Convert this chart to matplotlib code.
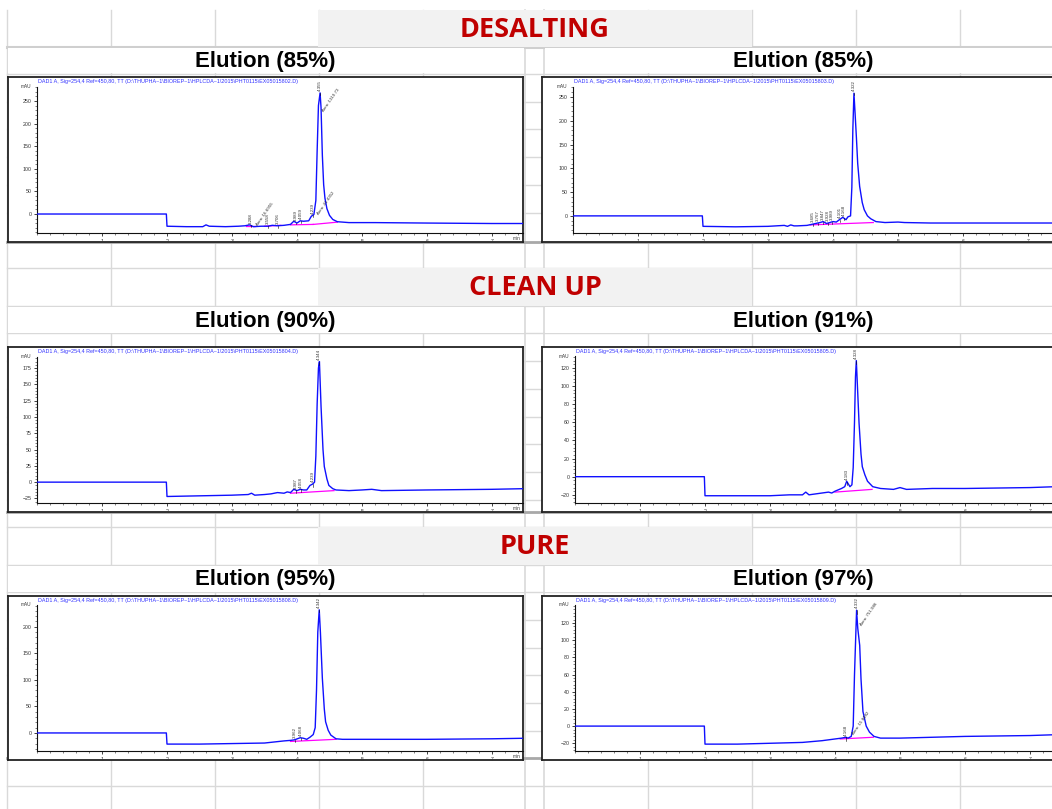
import matplotlib
matplotlib.use("Agg")
import numpy as np
import matplotlib.pyplot as plt
from matplotlib.patches import Rectangle
from matplotlib.ticker import MultipleLocator

W, H = 1052, 809

# ---------------- data ----------------
section_titles = ["DESALTING", "CLEAN UP", "PURE"]
panel_titles = ["Elution (85%)", "Elution (85%)", "Elution (90%)",
                "Elution (91%)", "Elution (95%)", "Elution (97%)"]
data_files = ["EX05015802.D", "EX05015803.D", "EX05015804.D",
              "EX05015805.D", "EX05015808.D", "EX05015809.D"]

# panel 1: Desalting, Elution 85% (left)
t1 = [0, 1.99, 2.0, 2.3, 2.55, 2.6, 2.65, 2.9, 3.1, 3.2, 3.27, 3.33, 3.45, 3.55,
      3.62, 3.7, 3.8, 3.9, 3.95, 4.0, 4.05, 4.1, 4.18, 4.22, 4.26, 4.29, 4.31,
      4.33, 4.355, 4.37, 4.39, 4.41, 4.43, 4.46, 4.5, 4.55, 4.62, 4.8, 5.2, 6.0,
      7.0, 7.5]
v1 = [0, 0, -27, -28, -28, -24, -27, -28, -27, -26, -24, -28, -27, -27,
      -25, -26, -25, -23, -16, -20, -15, -16, -15, -5, -1, 30, 140,
      240, 268, 235, 130, 65, 35, 12, -3, -12, -17, -19, -19, -20,
      -21, -21]
peaks1 = [3.288, 3.558, 3.706, 3.989, 4.059, 4.239, 4.355]
areas1 = [(3.36, -22, "Area: 16.6955"), (4.38, 230, "Area: 1319.73"), (4.30, 2, "Area: 41.4352")]
base1 = [(3.22, -27, 3.35, -27), (3.5, -27, 3.75, -25), (3.9, -24, 4.25, -23), (4.25, -23, 4.62, -18)]

# panel 2: Desalting, Elution 85% (right)
t2 = [0, 1.99, 2.0, 2.5, 3.0, 3.25, 3.3, 3.35, 3.4, 3.45, 3.6, 3.7, 3.8, 3.85,
      3.9, 4.0, 4.05, 4.1, 4.15, 4.2, 4.23, 4.27, 4.29, 4.305, 4.322, 4.34, 4.36,
      4.38, 4.41, 4.45, 4.48, 4.53, 4.58, 4.66, 4.8, 5.0, 5.1, 5.5, 6.5, 7.4]
v2 = [0, 0, -22, -23, -22, -20, -22, -19, -21, -21, -20, -17, -14, -12,
      -16, -12, -13, -8, -3, -8, -2, 0, 60, 180, 258, 215, 165,
      110, 62, 28, 13, 0, -6, -12, -14, -13, -14, -15, -15, -15]
peaks2 = [3.685, 3.767, 3.847, 3.928, 3.989, 4.101, 4.168, 4.322]
areas2 = []
base2 = [(3.65, -19, 4.62, -14)]

# panel 3: Clean up, Elution 90%
t3 = [0, 1.99, 2.0, 2.5, 3.0, 3.25, 3.3, 3.35, 3.5, 3.6, 3.7, 3.8, 3.85, 3.9,
      3.95, 4.0, 4.05, 4.1, 4.15, 4.2, 4.24, 4.27, 4.29, 4.31, 4.33, 4.345, 4.37,
      4.40, 4.42, 4.46, 4.49, 4.55, 4.6, 4.8, 5.0, 5.15, 5.3, 6.0, 7.0, 7.5]
v3 = [0, 0, -22, -21, -20, -19, -17, -20, -19, -18, -16, -17, -15, -16,
      -11, -13, -11, -12, -12, -5, -3, 0, 40, 120, 175, 185, 116,
      50, 24, 5, -5, -10, -12, -13, -12, -11, -13, -12, -11, -10]
peaks3 = [3.987, 4.058, 4.239, 4.344]
areas3 = []
base3 = [(3.9, -17, 4.57, -13)]

# panel 4: Clean up, Elution 91%
t4 = [0, 1.99, 2.0, 2.5, 3.0, 3.3, 3.5, 3.55, 3.6, 3.7, 3.8, 3.9, 3.95, 4.0,
      4.1, 4.15, 4.18, 4.23, 4.26, 4.28, 4.30, 4.315, 4.328, 4.345, 4.37, 4.4,
      4.42, 4.46, 4.5, 4.58, 4.7, 4.9, 5.0, 5.1, 5.5, 6.0, 7.0, 7.4]
v4 = [0, 0, -21, -21, -21, -20, -20, -17, -20, -19, -18, -17, -18, -16,
      -13, -11, -5, -11, -9, 10, 60, 110, 128, 100, 59, 25,
      11, 2, -5, -11, -13, -14, -12, -14, -13, -13, -12, -11]
peaks4 = [4.183, 4.328]
areas4 = []
base4 = [(4.0, -17, 4.57, -14)]

# panel 5: Pure, Elution 95%
t5 = [0, 1.99, 2.0, 2.5, 3.0, 3.5, 3.8, 3.9, 3.96, 4.05, 4.1, 4.15, 4.2, 4.25,
      4.28, 4.30, 4.32, 4.342, 4.36, 4.39, 4.42, 4.44, 4.48, 4.52, 4.6, 4.7,
      5.0, 6.0, 7.0, 7.5]
v5 = [0, 0, -21, -21, -20, -19, -15, -14, -13, -9, -10, -12, -8, -3,
      10, 80, 190, 232, 190, 103, 45, 21, 5, -4, -11, -12,
      -12, -12, -11, -10]
peaks5 = [3.962, 4.068, 4.342]
areas5 = []
base5 = [(3.9, -16, 4.6, -12)]

# panel 6: Pure, Elution 97%
t6 = [0, 1.99, 2.0, 2.5, 3.0, 3.5, 3.8, 4.0, 4.1, 4.17, 4.2, 4.25, 4.28, 4.30,
      4.332, 4.35, 4.38, 4.40, 4.43, 4.48, 4.53, 4.6, 4.7, 5.0, 5.5, 6.0, 7.0, 7.4]
v6 = [0, 0, -21, -21, -20, -19, -17, -15, -14, -13, -14, -12, 0, 60,
      135, 114, 94, 55, 17, 0, -7, -12, -14, -14, -13, -12, -11, -10]
peaks6 = [4.168, 4.332]
areas6 = [(4.37, 118, "Area: 751.986"), (4.26, -8, "Area: 15.8482")]
base6 = [(4.08, -15, 4.59, -13)]

series_t = [t1, t2, t3, t4, t5, t6]
series_v = [v1, v2, v3, v4, v5, v6]
series_peaks = [peaks1, peaks2, peaks3, peaks4, peaks5, peaks6]
series_areas = [areas1, areas2, areas3, areas4, areas5, areas6]
series_base = [base1, base2, base3, base4, base5, base6]

y_limits = [(-42, 281), (-36, 271), (-32, 192), (-29, 133), (-34, 241), (-29, 141)]
y_ticks = [[0, 50, 100, 150, 200, 250],
           [0, 50, 100, 150, 200, 250],
           [-25, 0, 25, 50, 75, 100, 125, 150, 175],
           [-20, 0, 20, 40, 60, 80, 100, 120],
           [0, 50, 100, 150, 200],
           [-20, 0, 20, 40, 60, 80, 100, 120]]
y_minor = [10, 10, 5, 4, 10, 4]
x_ticks = [1, 2, 3, 4, 5, 6, 7]

# ---------------- layout (pixels) ----------------
frames = [(8, 77, 523, 242), (542, 77, 1075, 242),
          (8, 347, 523, 512), (542, 347, 1075, 512),
          (8, 596, 523, 760), (542, 596, 1075, 760)]
plots = [(37, 87, 523, 233), (573, 87, 1075, 233),
         (37, 357, 523, 503), (575, 356, 1075, 503),
         (37, 605, 523, 751), (575, 605, 1075, 751)]
PX_PER_MIN = 65.0


def rect(x0, y0, x1, y1):
    return [x0 / W, 1 - y1 / H, (x1 - x0) / W, (y1 - y0) / H]


fig = plt.figure(figsize=(W / 100, H / 100), dpi=100)
bg = fig.add_axes([0, 0, 1, 1])
bg.set_xlim(0, W)
bg.set_ylim(H, 0)
bg.axis("off")

grid_c = "#d9d9d9"
vx = [7, 111, 215, 319, 423, 525, 544, 648, 752, 856, 960]
for x in vx:
    bg.plot([x, x], [10, H], color=grid_c, lw=1.2 if x in (525, 544) else 1.0, zorder=1)
hy = [74, 102, 129, 157, 185, 213, 268, 306, 333, 361, 389, 417, 444, 472, 500,
      527, 565, 592, 620, 648, 675, 703, 731, 786]
for y in hy:
    bg.plot([7, W], [y, y], color=grid_c, lw=1.0, zorder=1)
bg.plot([7, W], [47, 47], color="#cfcfcf", lw=2.2, zorder=2)
for y in (242, 512, 758):
    bg.plot([7, W], [y, y], color="#a8a8a8", lw=2.0, zorder=2)

header_rows = [(10, 47), (268, 306), (527, 565)]
title_rows = [(48, 73), (307, 333), (566, 592)]
for i, (y0, y1) in enumerate(header_rows):
    bg.add_patch(Rectangle((318, y0), 434, y1 - y0, facecolor="#f2f2f2",
                           edgecolor="none", zorder=3))
    bg.text(535, (y0 + y1) / 2 + 1, section_titles[i], ha="center", va="center",
            fontsize=19.5, fontweight="bold", color="#c00000",
            family="Open Sans", zorder=4)
for i, (y0, y1) in enumerate(title_rows):
    bg.add_patch(Rectangle((8, y0), 516, y1 - y0, facecolor="white", edgecolor="none", zorder=3))
    bg.add_patch(Rectangle((545, y0), 507, y1 - y0, facecolor="white", edgecolor="none", zorder=3))
    for j, xc in enumerate((265, 803)):
        bg.text(xc, (y0 + y1) / 2 + 1, panel_titles[2 * i + j], ha="center", va="center",
                fontsize=16, fontweight="bold", color="black",
                family="Liberation Sans", zorder=4)

blue = "#1010ff"
mag = "#ff00ff"
for k in range(6):
    fx0, fy0, fx1, fy1 = frames[k]
    fa = fig.add_axes(rect(*frames[k]))
    fa.set_facecolor("white")
    fa.set_xticks([])
    fa.set_yticks([])
    for s in fa.spines.values():
        s.set_color("#222222")
        s.set_linewidth(1.3)

    px0, py0, px1, py1 = plots[k]
    ax = fig.add_axes(rect(*plots[k]))
    ax.set_facecolor("none")
    ax.set_xlim(0, (px1 - px0) / PX_PER_MIN)
    ax.set_ylim(*y_limits[k])
    for s in ("top", "right"):
        ax.spines[s].set_visible(False)
    for s in ("left", "bottom"):
        ax.spines[s].set_linewidth(0.8)
        ax.spines[s].set_color("#111111")
    ax.set_xticks(x_ticks)
    ax.xaxis.set_minor_locator(MultipleLocator(0.2))
    ax.set_yticks(y_ticks[k])
    ax.yaxis.set_minor_locator(MultipleLocator(y_minor[k]))
    ax.tick_params(which="major", length=2.5, width=0.6, labelsize=3.8,
                   pad=1.5, colors="#222222", labelcolor="#333333")
    ax.tick_params(which="minor", length=1.5, width=0.4, colors="#222222")
    for lab in ax.get_xticklabels() + ax.get_yticklabels():
        lab.set_family("Liberation Sans")

    t = np.array(series_t[k])
    v = np.array(series_v[k])
    ax.plot(t, v, color=blue, lw=1.0, zorder=3)
    for (a0, b0, a1, b1) in series_base[k]:
        ax.plot([a0, a1], [b0, b1], color=mag, lw=0.9, zorder=2)
    for pt in series_peaks[k]:
        yv = np.interp(pt, t, v)
        ax.plot([pt, pt], [yv - 4, yv], color="black", lw=0.4, zorder=4)
        ax.text(pt, yv + 0.012 * (y_limits[k][1] - y_limits[k][0]), f"{pt:.3f}",
                rotation=90, ha="center", va="bottom", fontsize=3.2,
                color="#333333", family="Liberation Sans", zorder=5)
    for (at, av, txt) in series_areas[k]:
        ax.text(at, av, txt, rotation=55, ha="left", va="top", fontsize=3.2,
                color="#333333", family="Liberation Sans", zorder=5,
                rotation_mode="anchor")

    ax.text(-0.012, 1.0, "mAU", transform=ax.transAxes, ha="right", va="center",
            fontsize=3.4, color="#333333", family="Liberation Sans")
    if px1 <= W:
        ax.text(0.995, -0.04, "min", transform=ax.transAxes, ha="right", va="center",
                fontsize=3.4, color="#333333", family="Liberation Sans")
    fig.text((px0 + 1) / W, 1 - (fy0 + 4.5) / H,
             "DAD1 A, Sig=254,4 Ref=450,80, TT (D:\\THUPHA~1\\BIOREP~1\\HPLCDA~1\\2015\\PHT0115\\"
             + data_files[k] + ")", ha="left", va="center", fontsize=3.9,
             color="#3333ff", family="Liberation Sans")

fig.savefig("out.png", dpi=100)
